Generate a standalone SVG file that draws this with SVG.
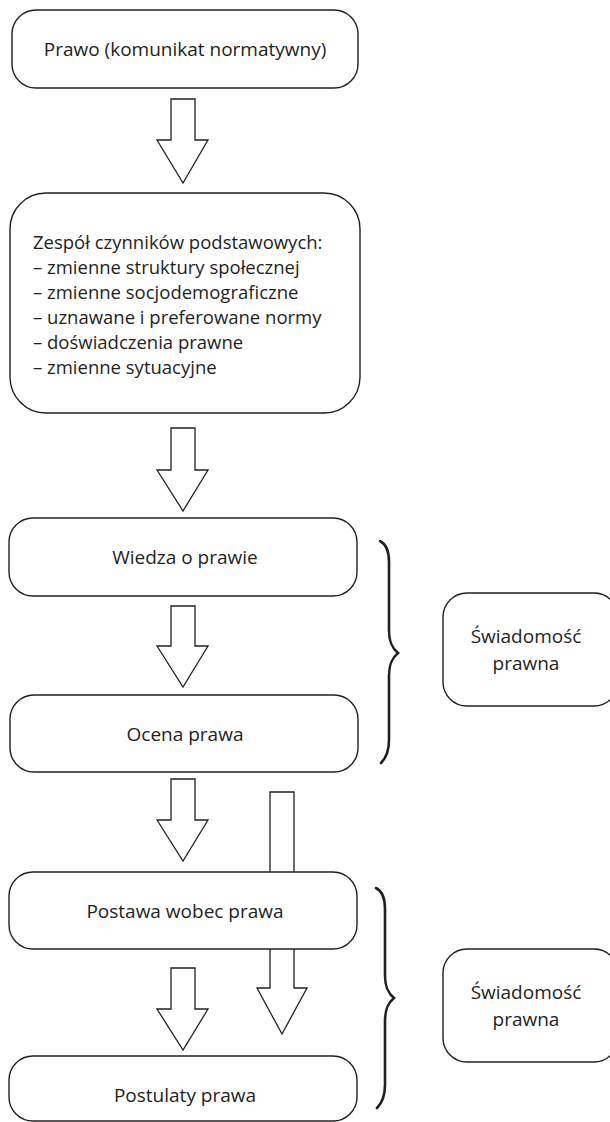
<svg xmlns="http://www.w3.org/2000/svg" width="610" height="1122" viewBox="0 0 610 1122">
<style>
.box{fill:#fff;stroke:#231f20;stroke-width:1.4}
.arr{fill:#fff;stroke:#231f20;stroke-width:1.3;stroke-linejoin:miter}
.brace{fill:none;stroke:#231f20;stroke-width:2.6;stroke-linecap:round}
text{font-family:"Open Sans","Noto Sans","DejaVu Sans",sans-serif;font-size:19px;fill:#231f20}
.c{text-anchor:middle}
.l{font-size:18.5px}
</style>
<rect width="610" height="1122" fill="#fff"/>
<g id="connectors">
<polygon class="arr" points="171,99 195,99 195,140 208,140 183,183 157,140 171,140"/>
<polygon class="arr" points="171,428 195,428 195,470 208,470 183,511 157,470 171,470"/>
<polygon class="arr" points="171,606 195,606 195,646 208,646 183,687 157,646 171,646"/>
<polygon class="arr" points="171,779 195,779 195,820 208,820 183,861 157,820 171,820"/>
<polygon class="arr" points="270,792 294,792 294,988 307,988 282,1034 257,988 270,988"/>
<polygon class="arr" points="171,968 195,968 195,1009 208,1009 183,1050 157,1009 171,1009"/>
</g>
<g id="n1">
<rect class="box" x="12" y="10" width="346" height="78" rx="24" ry="24"/>
<text class="c" x="185" y="56">Prawo (komunikat normatywny)</text>
</g>
<g id="n2">
<rect class="box" x="10" y="193" width="350" height="220" rx="36" ry="36"/>
<text class="l" x="33" y="249">Zespół czynników podstawowych:</text>
<text class="l" x="33" y="274">– zmienne struktury społecznej</text>
<text class="l" x="33" y="299">– zmienne socjodemograficzne</text>
<text class="l" x="33" y="324">– uznawane i preferowane normy</text>
<text class="l" x="33" y="349">– doświadczenia prawne</text>
<text class="l" x="33" y="374">– zmienne sytuacyjne</text>
</g>
<g id="n3">
<rect class="box" x="9" y="518" width="348" height="78" rx="24" ry="24"/>
<text class="c" x="185" y="564">Wiedza o prawie</text>
</g>
<g id="n4">
<rect class="box" x="10" y="695" width="348" height="77" rx="24" ry="24"/>
<text class="c" x="185" y="741">Ocena prawa</text>
</g>
<g id="n5">
<rect class="box" x="9" y="872" width="348" height="77" rx="24" ry="24"/>
<text class="c" x="185" y="918">Postawa wobec prawa</text>
</g>
<g id="n6">
<rect class="box" x="9" y="1056" width="348" height="65" rx="24" ry="24"/>
<text class="c" x="185" y="1102">Postulaty prawa</text>
</g>
<g id="brace1">
<path class="brace" d="M380,541 C386,544 389,550 389,562 L389,630 C389,642 392,648 398,653 C392,658 389,664 389,676 L389,740 C389,752 386,758 381,763"/>
</g>
<g id="brace2">
<path class="brace" d="M376,888 C382,891 385,897 385,909 L385,975 C385,987 388,993 394,998 C388,1003 385,1009 385,1021 L385,1085 C385,1097 382,1103 377,1108"/>
</g>
<g id="n7">
<rect class="box" x="443" y="593" width="175" height="113" rx="24" ry="24"/>
<text class="c" x="526" y="643">Świadomość</text>
<text class="c" x="526" y="670">prawna</text>
</g>
<g id="n8">
<rect class="box" x="443" y="949" width="175" height="113" rx="24" ry="24"/>
<text class="c" x="526" y="999">Świadomość</text>
<text class="c" x="526" y="1026">prawna</text>
</g>
</svg>
